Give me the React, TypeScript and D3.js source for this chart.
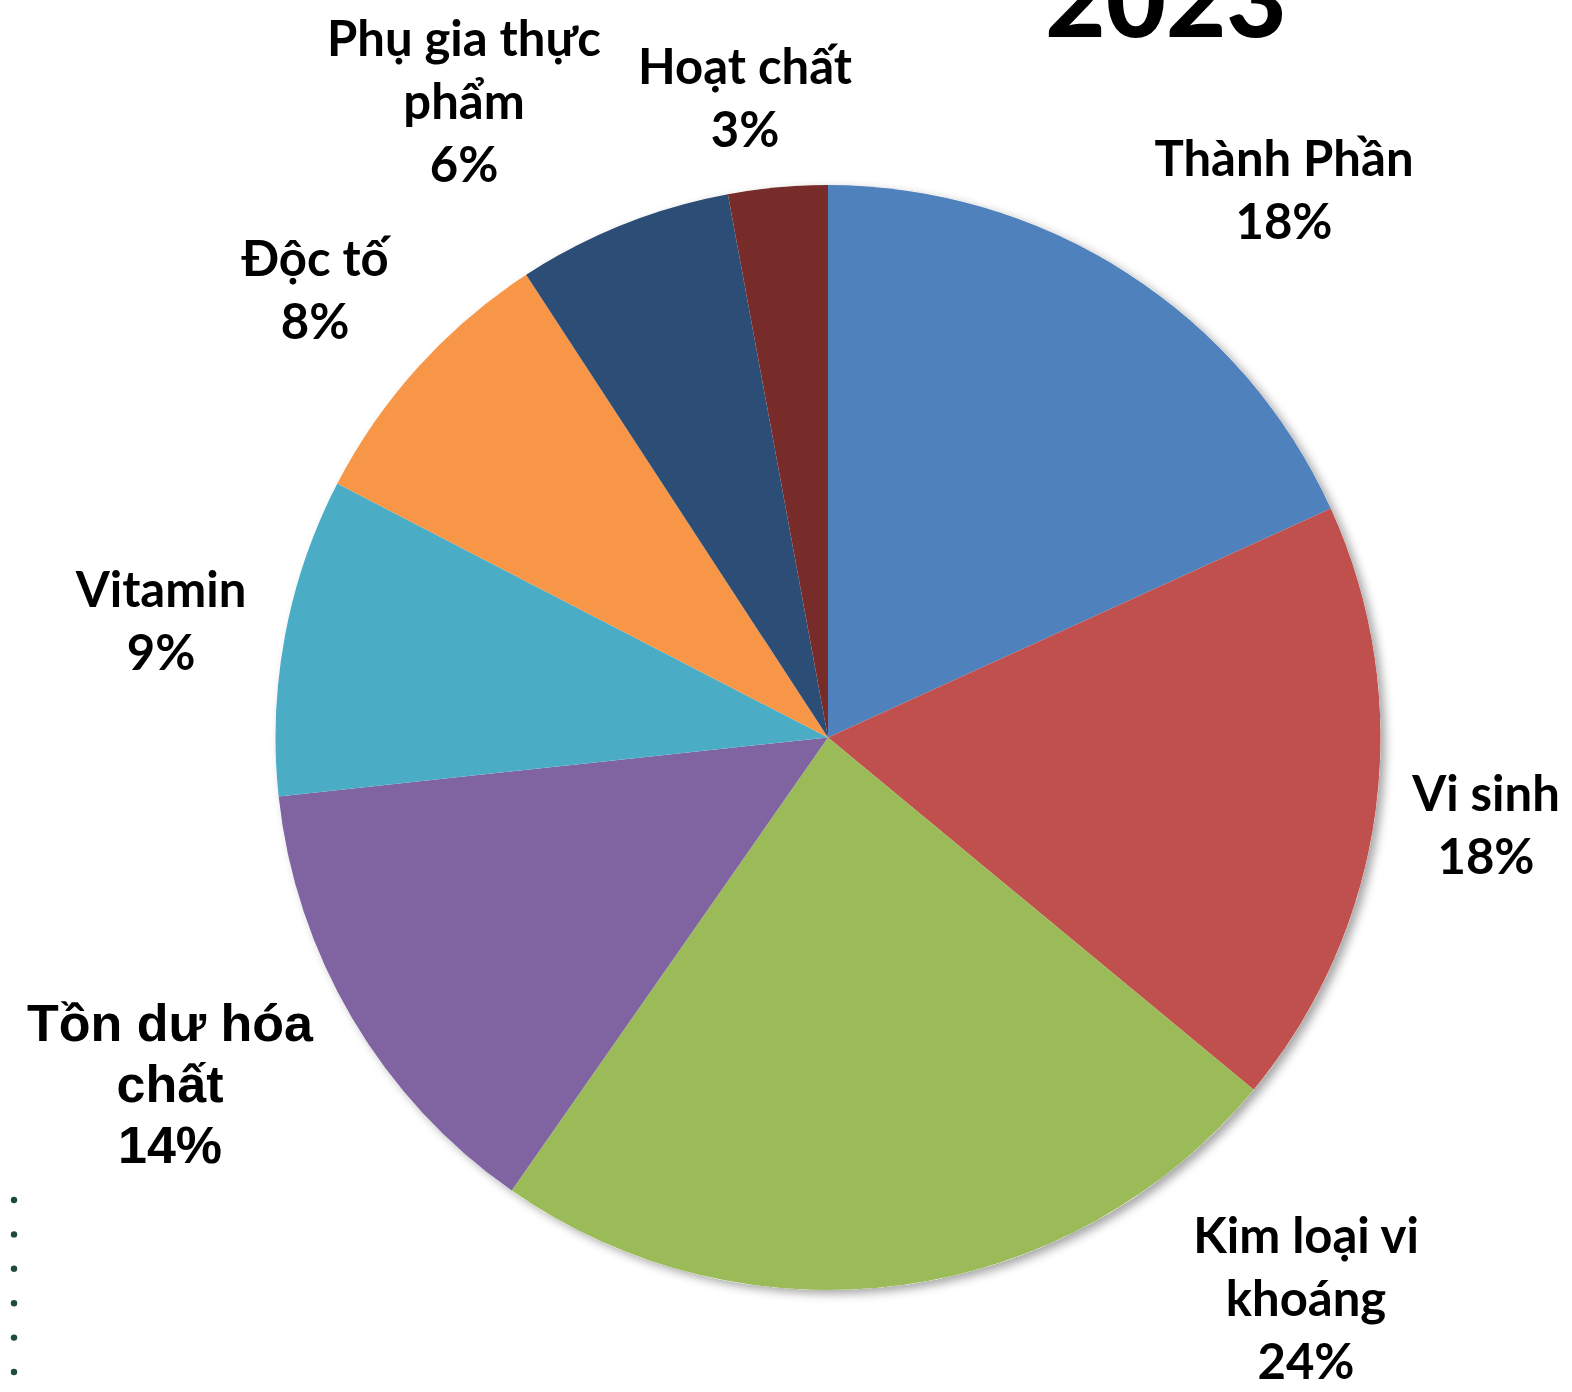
import React from "react";
import * as d3 from "d3";

const categories = [
  "Thành Phần",
  "Vi sinh",
  "Kim loại vi khoáng",
  "Tồn dư hóa chất",
  "Vitamin",
  "Độc tố",
  "Phụ gia thực phẩm",
  "Hoạt chất",
];
const values = [18.2, 17.8, 23.7, 13.6, 9.3, 8.2, 6.3, 2.9];
const labelLines = [
  ["Thành Phần"],
  ["Vi sinh"],
  ["Kim loại vi", "khoáng"],
  ["Tồn dư hóa", "chất"],
  ["Vitamin"],
  ["Độc tố"],
  ["Phụ gia thực", "phẩm"],
  ["Hoạt chất"],
];
const colors = [
  "#4F81BD",
  "#C0504D",
  "#9BBB59",
  "#8064A2",
  "#4BACC6",
  "#F79646",
  "#2C4D75",
  "#772C2A",
];
const title = "2023";

// layout (label anchors: center x, first baseline, relative to pie center)
const W = 1572;
const H = 1392;
const CX = 828;
const CY = 737.5;
const R = 552.5;
const labelAnchors: [number, number][] = [
  [456, -562],
  [658, 73],
  [478, 515],
  [-658, 303],
  [-667, -131],
  [-513, -462],
  [-364, -682],
  [-83, -654],
];
const LINE_H = 63;

export default function App() {
  const pie = d3
    .pie<number>()
    .sort(null)
    .value((d) => d);
  const arcs = pie(values);
  const arcGen = d3.arc<d3.PieArcDatum<number>>().innerRadius(0).outerRadius(R);
  const total = d3.sum(values);
  const dots = d3.range(6);

  return (
    <svg
      width={W}
      height={H}
      style={{ position: "absolute", left: 0, top: 0, background: "#fff" }}
    >
      <defs>
        <filter id="sh" x="-10%" y="-10%" width="120%" height="120%">
          <feDropShadow dx="5" dy="4" stdDeviation="5" floodColor="#000" floodOpacity="0.35" />
        </filter>
      </defs>
      <rect width={W} height={H} fill="#fff" />
      <text
        x={1166}
        y={37}
        textAnchor="middle"
        fontFamily="Lato, 'Open Sans', sans-serif"
        fontWeight={900}
        fontSize={104}
        fill="#000"
      >
        {title}
      </text>
      <g transform={`translate(${CX},${CY})`}>
        <circle r={R} fill="#fff" filter="url(#sh)" />
        {arcs.map((a, i) => (
          <path key={categories[i]} d={arcGen(a) || ""} fill={colors[i]} />
        ))}
        {arcs.map((a, i) => {
          const [lx, ly] = labelAnchors[i];
          const pct = Math.round((values[i] / total) * 100) + "%";
          const lines = [...labelLines[i], pct];
          const isArial = i === 3;
          return (
            <text
              key={"l" + i}
              x={lx}
              y={ly}
              textAnchor="middle"
              fontFamily={isArial ? "'Liberation Sans', Arial, sans-serif" : "Lato, 'Open Sans', sans-serif"}
              fontWeight={700}
              fontSize={isArial ? 52 : 49}
              fill="#000"
            >
              {lines.map((t, j) => (
                <tspan key={j} x={lx} dy={j === 0 ? 0 : isArial ? 61 : LINE_H}>
                  {t}
                </tspan>
              ))}
            </text>
          );
        })}
      </g>
      {dots.map((d) => (
        <circle key={d} cx={14} cy={1200 + d * 34.4} r={3.2} fill="#1F4A40" />
      ))}
    </svg>
  );
}
